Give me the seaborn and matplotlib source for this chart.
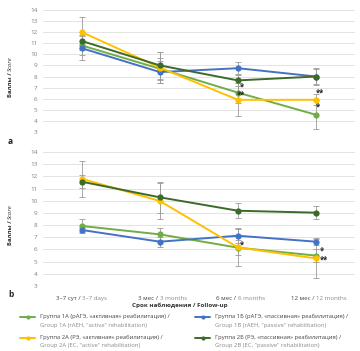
import numpy as np
import pandas as pd
import matplotlib
matplotlib.use("Agg")
import matplotlib.pyplot as plt
import seaborn as sns
from matplotlib.lines import Line2D

sns.set_theme(style="white")
plt.rcParams['font.family'] = ['Open Sans', 'DejaVu Sans']

timepoints = ["3–7 сут / 3–7 days", "3 мес / 3 months", "6 мес / 6 months", "12 мес / 12 months"]
tick_ru = ["3–7 сут", "3 мес", "6 мес", "12 мес"]
tick_en = ["3–7 days", "3 months", "6 months", "12 months"]
groups = ["1A", "1B", "2A", "2B"]

# Panel a
a_1A = [10.8, 8.7, 6.55, 4.55]
a_1B = [10.55, 8.4, 8.75, 8.0]
a_2A = [12.0, 8.8, 5.9, 5.9]
a_2B = [11.2, 9.0, 7.65, 8.0]
a_err_1A = [0.9, 1.0, 0.9, 1.3]
a_err_1B = [1.1, 1.0, 0.55, 0.7]
a_err_2A = [1.4, 1.4, 1.5, 0.5]
a_err_2B = [0.8, 1.2, 0.5, 0.8]

# Panel b
b_1A = [7.93, 7.24, 6.15, 5.5]
b_1B = [7.6, 6.64, 7.13, 6.64]
b_2A = [11.8, 9.98, 6.17, 5.27]
b_2B = [11.56, 10.28, 9.18, 9.02]
b_err_1A = [0.55, 0.55, 0.6, 0.5]
b_err_1B = [0.2, 0.4, 0.6, 0.3]
b_err_2A = [1.5, 1.5, 1.5, 1.6]
b_err_2B = [0.55, 1.27, 0.6, 0.55]

colors = {"1A": "#70AD47", "1B": "#4472C4", "2A": "#FFC000", "2B": "#3B6B2A"}
order_draw = ["1A", "1B", "2A", "2B"]

def make_df(vals, errs):
    rows = []
    for g, v, e in zip(groups, vals, errs):
        for i, (vv, ee) in enumerate(zip(v, e)):
            rows.append({"group": g, "x": i, "score": vv, "err": ee})
    return pd.DataFrame(rows)

df_a = make_df([a_1A, a_1B, a_2A, a_2B], [a_err_1A, a_err_1B, a_err_2A, a_err_2B])
df_b = make_df([b_1A, b_1B, b_2A, b_2B], [b_err_1A, b_err_1B, b_err_2A, b_err_2B])

fig = plt.figure(figsize=(3.6, 3.51), dpi=100)
ax_a = fig.add_axes([0.119, 0.624, 0.867, 0.3476])
ax_b = fig.add_axes([0.119, 0.185, 0.867, 0.382])

tick_color = "#7f7f7f"

def draw(ax, df):
    for g in order_draw:
        d = df[df.group == g]
        ax.errorbar(d.x, d.score, yerr=d.err, fmt='none', ecolor="#9a9a9a",
                    elinewidth=0.6, capsize=2, capthick=0.6, zorder=2, clip_on=False)
    sns.lineplot(data=df, x="x", y="score", hue="group", palette=colors,
                 hue_order=order_draw, marker="o", markersize=4.5, markeredgewidth=0,
                 linewidth=1.4, ax=ax, legend=False, zorder=3, sort=False, clip_on=False)
    ax.set_xlim(-0.5, 3.5)
    ax.set_ylim(3, 14)
    ax.set_yticks(range(3, 15))
    ax.tick_params(axis='y', labelsize=4.5, colors=tick_color, length=0, pad=4)
    ax.yaxis.grid(True, color="#e3e3e3", linewidth=0.7)
    for s in ax.spines.values():
        s.set_visible(False)
    ax.set_xlabel("")
    ax.set_ylabel("")
    ax.text(-0.105, 0.5, "Баллы / ", transform=ax.transAxes, rotation=90,
            ha='center', va='top', fontsize=4.4, fontweight='bold', color="#333333")
    ax.text(-0.105, 0.5, "Score", transform=ax.transAxes, rotation=90,
            ha='center', va='bottom', fontsize=4.4, style='italic', color="#333333")

draw(ax_a, df_a)
draw(ax_b, df_b)

ax_a.set_xticks([])
ax_b.set_xticks(range(4))
ax_b.set_xticklabels([""] * 4)
for i, (ru, en) in enumerate(zip(tick_ru, tick_en)):
    ax_b.annotate(ru + " / ", xy=(i, 3), xytext=(0, -7), textcoords='offset points',
                  ha='right', va='top', fontsize=4.4, color="#444444", annotation_clip=False)
    ax_b.annotate(en, xy=(i, 3), xytext=(0, -7), textcoords='offset points',
                  ha='left', va='top', fontsize=4.4, color="#8a8a8a", annotation_clip=False)
ax_b.tick_params(axis='x', length=0)

fig.text(0.5, 0.131, "Срок наблюдения / Follow-up", ha='center', va='center',
         fontsize=4.5, fontweight='bold', color="#333333")

# Panel labels
fig.text(0.022, 0.598, "a", fontsize=6, fontweight='bold', color="#222222", va='center')
fig.text(0.022, 0.16, "b", fontsize=6, fontweight='bold', color="#222222", va='center')

# Asterisks
star_kw = dict(fontsize=5.5, color="#222222", fontweight='bold', ha='left', va='bottom')
ax_a.text(2.02, a_1A[2] + 0.1, "*", **star_kw)
ax_a.text(1.98, a_2A[2] + 0.0, "**", **star_kw)
ax_a.text(3.0, a_2A[3] + 0.2, "**", **star_kw)
ax_a.text(3.0, a_1A[3] + 0.3, "*", **star_kw)
ax_b.text(2.03, b_2A[2] - 0.15, "*", **star_kw)
ax_b.text(3.05, b_1A[3] + 0.0, "*", **star_kw)
ax_b.text(3.05, b_2A[3] - 0.5, "**", **star_kw)

# Legend
ru_labels = {
    "1A": "Группа 1А (рАГЭ, «активная» реабилитация) /",
    "1B": "Группа 1Б (рАГЭ, «пассивная» реабилитация) /",
    "2A": "Группа 2А (РЭ, «активная» реабилитация) /",
    "2B": "Группа 2Б (РЭ, «пассивная» реабилитация) /",
}
en_labels = {
    "1A": "Group 1A (rAEH, \"active\" rehabilitation)",
    "1B": "Group 1B (rAEH, \"passive\" rehabilitation)",
    "2A": "Group 2A (EC, \"active\" rehabilitation)",
    "2B": "Group 2B (EC, \"passive\" rehabilitation)",
}
pos = {"1A": (20, 317), "1B": (195, 317), "2A": (20, 338), "2B": (195, 338)}
W, H = 360, 351
for g, (x0, y0) in pos.items():
    yf = 1 - y0 / H
    fig.add_artist(Line2D([x0 / W, (x0 + 15) / W], [yf, yf], color=colors[g],
                          linewidth=1.4))
    fig.add_artist(Line2D([(x0 + 7.5) / W], [yf], color=colors[g], marker='o',
                          markersize=3, markeredgewidth=0, linestyle='none'))
    fig.text((x0 + 20) / W, yf + 0.5 / H, ru_labels[g], fontsize=4.2, color="#444444",
             ha='left', va='center')
    fig.text((x0 + 20) / W, yf - 8 / H, en_labels[g], fontsize=4.2, color="#8a8a8a",
             ha='left', va='center')

fig.savefig("out.png", dpi=100, facecolor="white")
